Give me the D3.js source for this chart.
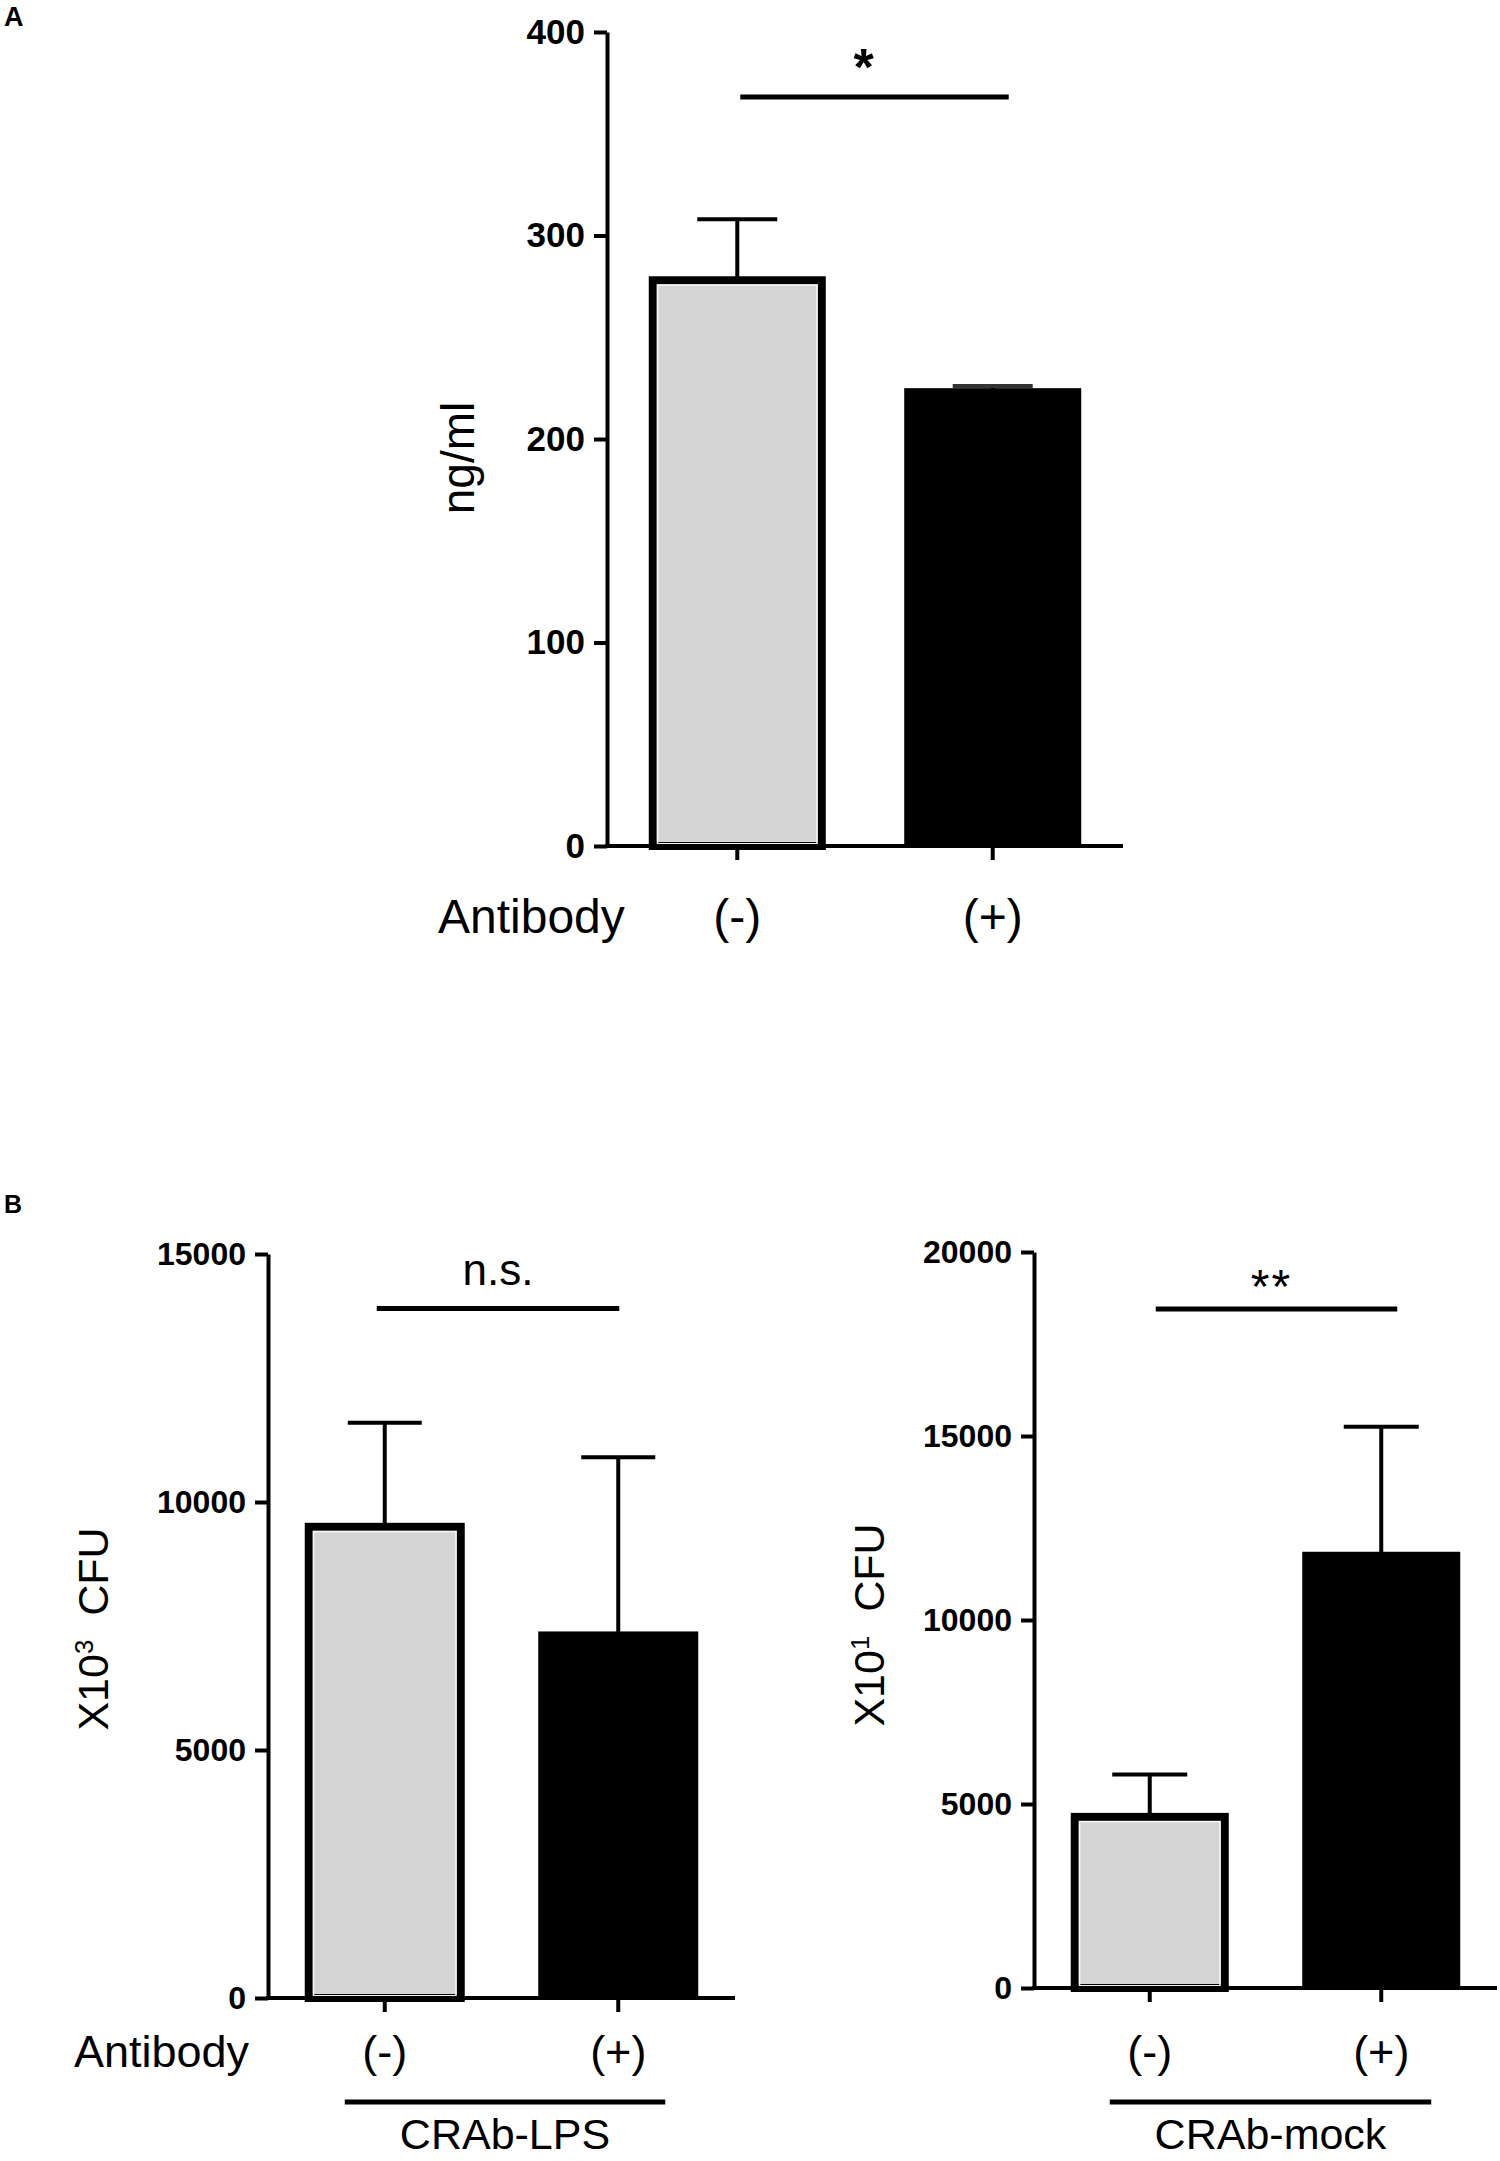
<!DOCTYPE html>
<html>
<head>
<meta charset="utf-8">
<script src="https://cdn.jsdelivr.net/npm/d3@7"></script>
<style>
  html, body { margin: 0; padding: 0; background: #fff; }
  svg { display: block; }
  text { font-family: "Liberation Sans", Arial, sans-serif; fill: #000; }
</style>
</head>
<body>
<svg id="chart" width="1500" height="2161"></svg>
<script>
// ---------------- DATA ----------------
const groups = ["(-)", "(+)"];
const groupColors = ["#d4d4d4", "#000000"];

// Panel A: ng/ml
const panelA_means = [278, 224];
const panelA_sem = [30, 2];
const panelA_ticks = [0, 100, 200, 300, 400];
const panelA_sig = "*";
const panelA_sigLevel = 368;

// Panel B left: CRAb-LPS, X10^3 CFU
const panelB1_means = [9500, 7350];
const panelB1_sem = [2100, 3550];
const panelB1_ticks = [0, 5000, 10000, 15000];
const panelB1_sig = "n.s.";
const panelB1_sigLevel = 13900;
const panelB1_group = "CRAb-LPS";

// Panel B right: CRAb-mock, X10^1 CFU
const panelB2_means = [4650, 11800];
const panelB2_sem = [1150, 3450];
const panelB2_ticks = [0, 5000, 10000, 15000, 20000];
const panelB2_sig = "**";
const panelB2_sigLevel = 18450;
const panelB2_group = "CRAb-mock";

// ---------------- DRAW ----------------
const svg = d3.select("#chart");

function drawPanel(cfg) {
  const g = svg.append("g");
  const y = d3.scaleLinear().domain([0, cfg.ticks[cfg.ticks.length - 1]]).range([cfg.y0, cfg.yTop]);
  const x = d3.scalePoint().domain(groups).range([cfg.axisX, cfg.axisRight]).padding(cfg.pad);

  // bars
  const data = groups.map((k, i) => ({ k, m: cfg.means[i], s: cfg.sem[i], c: groupColors[i], i }));
  const sw = 8;
  data.forEach(d => {
    const cx = x(d.k);
    if (d.i === 0) {
      g.append("rect")
        .attr("x", cx - cfg.barW / 2 + sw / 2)
        .attr("y", y(d.m))
        .attr("width", cfg.barW - sw)
        .attr("height", y(0) - y(d.m))
        .attr("fill", d.c)
        .attr("stroke", "#000")
        .attr("stroke-width", sw);
      g.append("rect")
        .attr("x", cx - cfg.barW / 2 + sw + 0.8)
        .attr("y", y(d.m) + sw / 2 + 0.8)
        .attr("width", cfg.barW - 2 * sw - 1.6)
        .attr("height", y(0) - y(d.m) - sw / 2 - 3)
        .attr("fill", "none")
        .attr("stroke", "#f4f4f4")
        .attr("stroke-width", 1.6);
    } else {
      g.append("rect")
        .attr("x", cx - cfg.barW / 2)
        .attr("y", y(d.m) - 2)
        .attr("width", cfg.barW)
        .attr("height", y(0) - y(d.m) + 2)
        .attr("fill", d.c);
    }
    // error bar
    g.append("line")
      .attr("x1", cx).attr("x2", cx)
      .attr("y1", y(d.m)).attr("y2", y(d.m + d.s))
      .attr("stroke", "#000").attr("stroke-width", 4);
    g.append("line")
      .attr("x1", cx - cfg.capW / 2).attr("x2", cx + cfg.capW / 2)
      .attr("y1", y(d.m + d.s)).attr("y2", y(d.m + d.s))
      .attr("stroke", d.i === 1 && d.s < 5 ? "#333" : "#000").attr("stroke-width", 4);
  });

  // y axis
  const ya = g.append("g")
    .attr("transform", `translate(${cfg.axisX},0)`)
    .call(d3.axisLeft(y).tickValues(cfg.ticks).tickFormat(d3.format("d")).tickSize(13).tickSizeOuter(0).tickPadding(9));
  ya.select(".domain").attr("stroke", "#000").attr("stroke-width", 4);
  ya.selectAll(".tick line").attr("stroke", "#000").attr("stroke-width", 4);
  ya.selectAll(".tick text")
    .style("font-family", '"Liberation Sans", Arial, sans-serif')
    .style("font-weight", "bold")
    .style("font-size", cfg.tickFont + "px")
    .attr("fill", "#000");

  // x axis line and ticks
  g.append("line")
    .attr("x1", cfg.axisX - 2).attr("x2", cfg.axisRight)
    .attr("y1", y(0)).attr("y2", y(0))
    .attr("stroke", "#000").attr("stroke-width", 4);
  groups.forEach(k => {
    g.append("line")
      .attr("x1", x(k)).attr("x2", x(k))
      .attr("y1", y(0)).attr("y2", y(0) + 14)
      .attr("stroke", "#000").attr("stroke-width", 4);
    g.append("text")
      .attr("x", x(k)).attr("y", cfg.catBaseline)
      .attr("text-anchor", "middle")
      .style("font-size", cfg.catFont + "px")
      .text(k);
  });

  // Antibody label
  if (cfg.antibodyX !== null) {
    g.append("text")
      .attr("x", cfg.antibodyX).attr("y", cfg.catBaseline)
      .style("font-size", cfg.catFont + "px")
      .text("Antibody");
  }

  // y label
  const yl = g.append("text")
    .attr("transform", `translate(${cfg.ylabX},${cfg.ylabY}) rotate(-90)`)
    .attr("text-anchor", "middle")
    .style("font-size", cfg.ylabFont + "px");
  if (cfg.ylabSup) {
    yl.append("tspan").text("X10");
    yl.append("tspan").attr("dy", -15).style("font-size", (cfg.ylabFont * 0.6) + "px").text(cfg.ylabSup);
    yl.append("tspan").attr("dy", 15).text("\u00a0 CFU");
  } else {
    yl.text(cfg.ylab);
  }

  // significance
  const sx1 = x(groups[0]) + cfg.sigOff[0];
  const sx2 = x(groups[1]) + cfg.sigOff[1];
  const sy = y(cfg.sigLevel);
  g.append("line")
    .attr("x1", sx1).attr("x2", sx2).attr("y1", sy).attr("y2", sy)
    .attr("stroke", "#000").attr("stroke-width", 5);
  g.append("text")
    .attr("x", (sx1 + sx2) / 2 + cfg.sigTextDx)
    .attr("y", sy + cfg.sigTextDy)
    .attr("text-anchor", "middle")
    .style("font-size", cfg.sigFont + "px")
    .style("font-weight", cfg.sigBold ? "bold" : "normal")
    .style("letter-spacing", cfg.sigSpacing || "0px")
    .text(cfg.sig);

  // group line and label
  if (cfg.group) {
    g.append("line")
      .attr("x1", x(groups[0]) + cfg.grpOff[0]).attr("x2", x(groups[1]) + cfg.grpOff[1])
      .attr("y1", cfg.grpLineY).attr("y2", cfg.grpLineY)
      .attr("stroke", "#000").attr("stroke-width", 5);
    g.append("text")
      .attr("x", (x(groups[0]) + cfg.grpOff[0] + x(groups[1]) + cfg.grpOff[1]) / 2)
      .attr("y", cfg.grpBaseline)
      .attr("text-anchor", "middle")
      .style("font-size", "43px")
      .text(cfg.group);
  }
}

drawPanel({
  means: panelA_means, sem: panelA_sem, ticks: panelA_ticks,
  y0: 846, yTop: 32, axisX: 607, axisRight: 1123, pad: 0.51,
  barW: 177, capW: 80, tickFont: 35,
  catBaseline: 933, catFont: 48, antibodyX: 438,
  ylab: "ng/ml", ylabX: 474, ylabY: 458, ylabFont: 46,
  sig: panelA_sig, sigLevel: panelA_sigLevel, sigOff: [3, 16], sigTextDx: -11, sigTextDy: -12, sigFont: 52, sigBold: true,
  group: null
});

drawPanel({
  means: panelB1_means, sem: panelB1_sem, ticks: panelB1_ticks,
  y0: 1998, yTop: 1254, axisX: 268, axisRight: 735, pad: 0.5,
  barW: 160, capW: 74, tickFont: 32,
  catBaseline: 2067, catFont: 45, antibodyX: 74,
  ylabSup: "3", ylabX: 108, ylabY: 1629, ylabFont: 43,
  sig: panelB1_sig, sigLevel: panelB1_sigLevel, sigOff: [-8, 1], sigTextDx: 0, sigTextDy: -24, sigFont: 44, sigBold: false,
  group: panelB1_group, grpOff: [-40, 47], grpLineY: 2102, grpBaseline: 2149
});

drawPanel({
  means: panelB2_means, sem: panelB2_sem, ticks: panelB2_ticks,
  y0: 1988, yTop: 1252, axisX: 1034, axisRight: 1497, pad: 0.5,
  barW: 158, capW: 75, tickFont: 32,
  catBaseline: 2067, catFont: 45, antibodyX: null,
  ylabSup: "1", ylabX: 884, ylabY: 1625, ylabFont: 43,
  sig: panelB2_sig, sigLevel: panelB2_sigLevel, sigOff: [6, 16], sigTextDx: -5, sigTextDy: -6, sigFont: 48, sigBold: false, sigSpacing: "2px",
  group: panelB2_group, grpOff: [-40, 50], grpLineY: 2102, grpBaseline: 2149
});

// panel letters
svg.append("text").attr("x", 4).attr("y", 26).style("font-size", "27px").style("font-weight", "bold").text("A");
svg.append("text").attr("x", 4).attr("y", 1213).style("font-size", "25px").style("font-weight", "bold").text("B");
</script>
</body>
</html>
